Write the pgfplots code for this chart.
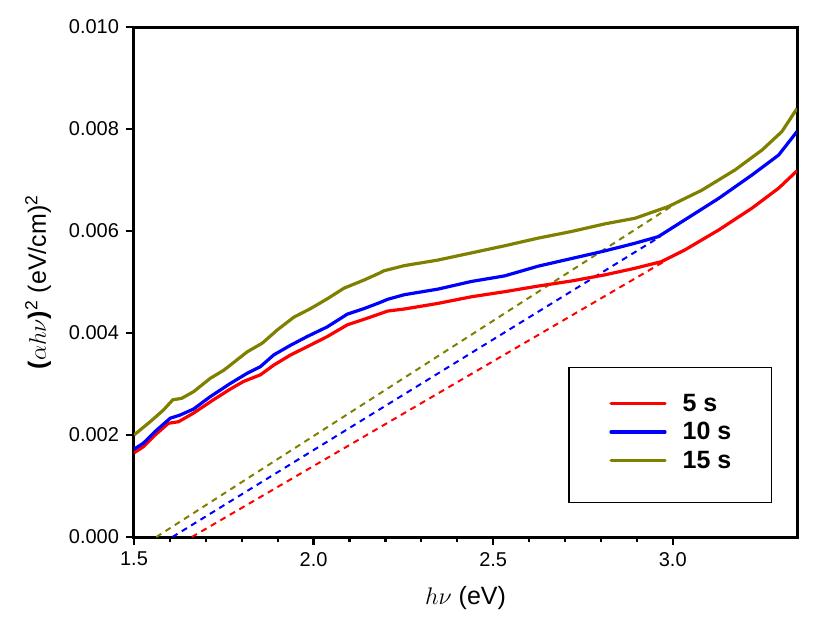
\documentclass[border=0pt]{standalone}
\usepackage{pgfplots}
\pgfplotsset{compat=1.18}
\usepackage{fontspec}
\setmainfont{Liberation Sans}
\definecolor{cRed}{RGB}{255,0,0}
\definecolor{cBlue}{RGB}{0,0,255}
\definecolor{cOlive}{RGB}{128,128,0}
\begin{document}
\begin{tikzpicture}
\begin{axis}[
  scale only axis,
  width=331.5pt, height=255pt,
  xmin=1.5, xmax=3.346, ymin=0, ymax=0.010,
  axis line style={line width=1.5pt},
  tick align=outside, tick pos=left,
  xtick={1.5,2.0,2.5,3.0}, minor x tick num=4,
  ytick={0,0.002,0.004,0.006,0.008,0.010},
  major tick length=4pt, minor tick length=2.5pt,
  tick style={line width=1.1pt, black},
  scaled y ticks=false,
  xticklabel style={/pgf/number format/.cd, fixed, fixed zerofill, precision=1, assume math mode=true},
  yticklabel style={/pgf/number format/.cd, fixed, fixed zerofill, precision=3, assume math mode=true},
  ticklabel style={font=\fontsize{10}{12}\selectfont},
  xlabel={$h\nu$ (eV)},
  ylabel={{\bfseries(}$\alpha h\nu${\bfseries)}\textsuperscript{2} (eV/cm)\textsuperscript{2}},
  label style={font=\fontsize{12.5}{15}\selectfont},
  xlabel style={yshift=-3pt},
  ylabel style={yshift=2pt},
  legend style={at={(rel axis cs:0.7165,0.206)}, anchor=west, draw=none, fill=none,
    inner sep=0pt, row sep=2.25pt, font=\fontsize{12.5}{15}\selectfont\bfseries,
    nodes={inner sep=1pt, text height=9pt, text depth=1pt}},
  legend image code/.code={\draw[#1, line width=1.6pt, line cap=round] (0pt,0pt) -- (27pt,0pt); \path (34pt,0pt);},
  legend cell align=left,
]
% dashed extrapolation lines
\addplot[cRed, line width=1pt, dash pattern=on 3pt off 2.5pt, forget plot] coordinates {(1.661,0) (2.983,0.00543)};
\addplot[cBlue, line width=1pt, dash pattern=on 3pt off 2.5pt, forget plot] coordinates {(1.607,0) (2.965,0.00589)};
\addplot[cOlive, line width=1pt, dash pattern=on 3pt off 2.5pt, forget plot] coordinates {(1.562,0) (3.002,0.00651)};
% 5 s
\addplot[cRed, line width=1.6pt] coordinates {
(1.500,0.00165) (1.526,0.00177) (1.559,0.00200) (1.596,0.00223) (1.624,0.00226)
(1.666,0.00243) (1.721,0.00269) (1.768,0.00290) (1.805,0.00305) (1.852,0.00318)
(1.889,0.00337) (1.936,0.00357) (1.982,0.00373) (2.038,0.00393) (2.094,0.00416)
(2.141,0.00427) (2.182,0.00437) (2.206,0.00443) (2.252,0.00447) (2.346,0.00458)
(2.439,0.00471) (2.532,0.00481) (2.625,0.00492) (2.718,0.00502) (2.811,0.00514)
(2.895,0.00527) (2.969,0.00540) (3.034,0.00563) (3.128,0.00602) (3.221,0.00645)
(3.295,0.00684) (3.346,0.00718)};
\addlegendentry{5 s}
% 10 s
\addplot[cBlue, line width=1.6pt] coordinates {
(1.500,0.00172) (1.526,0.00184) (1.559,0.00207) (1.601,0.00233) (1.628,0.00239)
(1.666,0.00251) (1.712,0.00275) (1.768,0.00301) (1.815,0.00321) (1.852,0.00334)
(1.889,0.00357) (1.936,0.00376) (1.982,0.00393) (2.038,0.00412) (2.094,0.00437)
(2.141,0.00448) (2.182,0.00459) (2.206,0.00466) (2.252,0.00475) (2.346,0.00486)
(2.439,0.00501) (2.532,0.00512) (2.625,0.00531) (2.718,0.00546) (2.811,0.00561)
(2.895,0.00576) (2.960,0.00589) (3.034,0.00622) (3.128,0.00664) (3.221,0.00710)
(3.295,0.00749) (3.346,0.00795)};
\addlegendentry{10 s}
% 15 s
\addplot[cOlive, line width=1.6pt] coordinates {
(1.500,0.00200) (1.545,0.00226) (1.582,0.00249) (1.608,0.00269) (1.633,0.00272)
(1.666,0.00285) (1.712,0.00311) (1.750,0.00327) (1.815,0.00363) (1.857,0.00380)
(1.899,0.00406) (1.945,0.00431) (1.992,0.00448) (2.038,0.00467) (2.085,0.00488)
(2.141,0.00504) (2.182,0.00517) (2.196,0.00522) (2.252,0.00532) (2.346,0.00543)
(2.439,0.00557) (2.532,0.00571) (2.625,0.00586) (2.718,0.00599) (2.811,0.00614)
(2.895,0.00625) (2.988,0.00648) (3.081,0.00680) (3.174,0.00720) (3.249,0.00759)
(3.304,0.00795) (3.346,0.00840)};
\addlegendentry{15 s}
\draw[line width=0.6pt] (rel axis cs:0.656,0.067) rectangle (rel axis cs:0.962,0.333);
\end{axis}
\path ([xshift=-67pt,yshift=-40pt]current axis.south west) rectangle ([xshift=11.5pt,yshift=13.5pt]current axis.north east);
\end{tikzpicture}
\end{document}
